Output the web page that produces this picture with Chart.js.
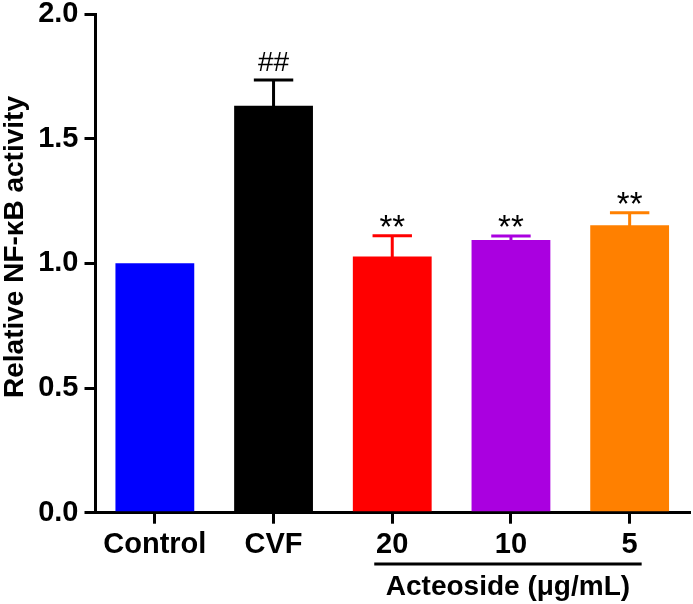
<!DOCTYPE html>
<html>
<head>
<meta charset="utf-8">
<script src="https://cdn.jsdelivr.net/npm/chart.js@4"></script>
<style>
  html, body { margin: 0; padding: 0; background: #fff; }
  #wrap { width: 693px; height: 604px; position: relative; }
</style>
</head>
<body>
<div id="wrap"><canvas id="c"></canvas></div>
<script>
const categories = ['Control', 'CVF', '20', '10', '5'];
const values = [1.0, 1.632, 1.027, 1.094, 1.153];
const errors = [0, 0.103, 0.084, 0.016, 0.05];
const annotations = ['', '##', '**', '**', '**'];
const barColors = ['#0000FF', '#000000', '#FF0000', '#AA00E0', '#FF8000'];
const yTicks = [0, 0.5, 1.0, 1.5, 2.0];
const yTitle = 'Relative NF-\u03BAB activity';
const groupLabel = 'Acteoside (\u03BCg/mL)';

const FONT = '"Liberation Sans", Arial, Helvetica, sans-serif';
Chart.defaults.color = '#000';
Chart.defaults.font.family = FONT;

const extras = {
  id: 'extras',
  afterDatasetsDraw(chart) {
    const ctx = chart.ctx;
    const meta = chart.getDatasetMeta(0);
    const y = chart.scales.y;
    const x = chart.scales.x;
    ctx.save();
    // error bars
    meta.data.forEach((bar, i) => {
      if (!errors[i]) return;
      const topY = y.getPixelForValue(values[i] + errors[i]);
      const baseY = y.getPixelForValue(values[i]);
      const half = bar.width / 4;
      ctx.strokeStyle = barColors[i];
      ctx.lineWidth = 3;
      ctx.lineCap = 'butt';
      ctx.beginPath();
      ctx.moveTo(bar.x, baseY + 1);
      ctx.lineTo(bar.x, topY);
      ctx.moveTo(bar.x - half, topY);
      ctx.lineTo(bar.x + half, topY);
      ctx.stroke();
    });
    // significance marks
    meta.data.forEach((bar, i) => {
      const t = annotations[i];
      if (!t) return;
      const capY = y.getPixelForValue(values[i] + errors[i]);
      ctx.font = (t === '##' ? '28px ' : '33px ') + FONT;
      ctx.fillStyle = '#000';
      ctx.textAlign = 'center';
      ctx.textBaseline = 'alphabetic';
      const m = ctx.measureText(t);
      const gap = 9;
      ctx.fillText(t, bar.x, capY - gap - m.actualBoundingBoxDescent);
    });
    // group underline and label
    const x1 = x.getPixelForValue(2) - 18;
    const x2 = x.getPixelForValue(4) + 12;
    ctx.strokeStyle = '#000';
    ctx.lineWidth = 3;
    ctx.beginPath();
    ctx.moveTo(x1, 564);
    ctx.lineTo(x2, 564);
    ctx.stroke();
    ctx.font = 'bold 28px ' + FONT;
    ctx.textAlign = 'center';
    ctx.textBaseline = 'alphabetic';
    ctx.fillText(groupLabel, (x1 + x2) / 2, 595);
    // y title
    ctx.translate(15, 247);
    ctx.rotate(-Math.PI / 2);
    ctx.font = 'bold 28px ' + FONT;
    ctx.textBaseline = 'middle';
    ctx.fillText(yTitle, 0, 0);
    ctx.restore();
  }
};

new Chart(document.getElementById('c'), {
  type: 'bar',
  data: {
    labels: categories,
    datasets: [{
      data: values,
      backgroundColor: barColors,
      borderWidth: 0,
      categoryPercentage: 1.0,
      barPercentage: 0.664
    }]
  },
  options: {
    responsive: true,
    maintainAspectRatio: false,
    animation: false,
    layout: { padding: { top: 14, right: 4, bottom: 0, left: 0 } },
    plugins: { legend: { display: false }, tooltip: { enabled: false } },
    scales: {
      x: {
        offset: true,
        grid: { offset: false, drawOnChartArea: false, tickLength: 11, tickWidth: 3, lineWidth: 3, tickColor: '#000', color: '#000' },
        border: { display: true, width: 3, color: '#000' },
        ticks: { font: { size: 29, weight: 'bold' }, padding: 4, color: '#000', maxRotation: 0 },
        afterFit(s) { s.height = 91.3; s.paddingLeft = 0; s.paddingRight = 0; }
      },
      y: {
        min: 0, max: 2,
        afterBuildTicks(s) { s.ticks = yTicks.map(v => ({ value: v })); },
        grid: { drawOnChartArea: false, tickLength: 11, tickWidth: 3, lineWidth: 3, tickColor: '#000', color: '#000' },
        border: { display: true, width: 3, color: '#000' },
        ticks: {
          font: { size: 29, weight: 'bold' }, padding: 6, color: '#000',
          callback: v => Number(v).toFixed(1)
        },
        afterFit(s) { s.width = 95.5; s.paddingTop = 0; s.paddingBottom = 0; }
      }
    }
  },
  plugins: [extras]
});
</script>
</body>
</html>
